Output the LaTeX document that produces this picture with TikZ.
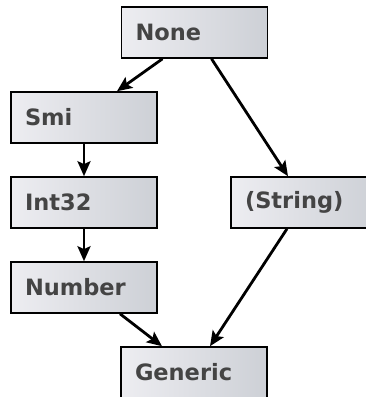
\documentclass[tikz,border=0pt]{standalone}
\usepackage{fontspec}
\setmainfont{DejaVu Sans}
\usetikzlibrary{arrows.meta}
\definecolor{boxleft}{HTML}{EDEDF1}
\definecolor{boxright}{HTML}{CDD0D6}
\definecolor{labeltext}{HTML}{444444}
\tikzset{
  typebox/.style={draw=black, line width=1.6pt, left color=boxleft, right color=boxright,
    minimum width=146pt, minimum height=51pt, text width=118pt, inner xsep=14pt,
    align=left, font=\bfseries\fontsize{22.5}{26}\selectfont, text=labeltext},
  edge/.style={line width=2.8pt, -{Stealth[length=15pt,width=13pt,inset=3pt]}}
}
\begin{document}
\begin{tikzpicture}[x=1pt,y=1pt]
\useasboundingbox (0,0) rectangle (366,-397);
\clip (0,0) rectangle (366,-397);
\node[typebox] (none)    at (194.5,-32.5) {None};
\node[typebox] (smi)     at (84,-117.5)   {Smi};
\node[typebox] (int32)   at (84,-202.5)   {Int32};
\node[typebox] (number)  at (84,-287.5)   {Number};
\node[typebox] (string)  at (304,-202.5)  {(String)};
\node[typebox] (generic) at (194,-372.5)  {Generic};
\draw[edge] ([xshift=-32pt]none.south) -- ([xshift=33pt]smi.north);
\draw[edge] ([xshift=17pt]none.south) -- ([xshift=-16pt]string.north);
\draw[edge] (smi.south) -- (int32.north);
\draw[edge] (int32.south) -- (number.north);
\draw[edge] ([xshift=36pt]number.south) -- ([xshift=-32pt]generic.north);
\draw[edge] ([xshift=-17pt]string.south) -- ([xshift=16pt]generic.north);
\end{tikzpicture}
\end{document}
